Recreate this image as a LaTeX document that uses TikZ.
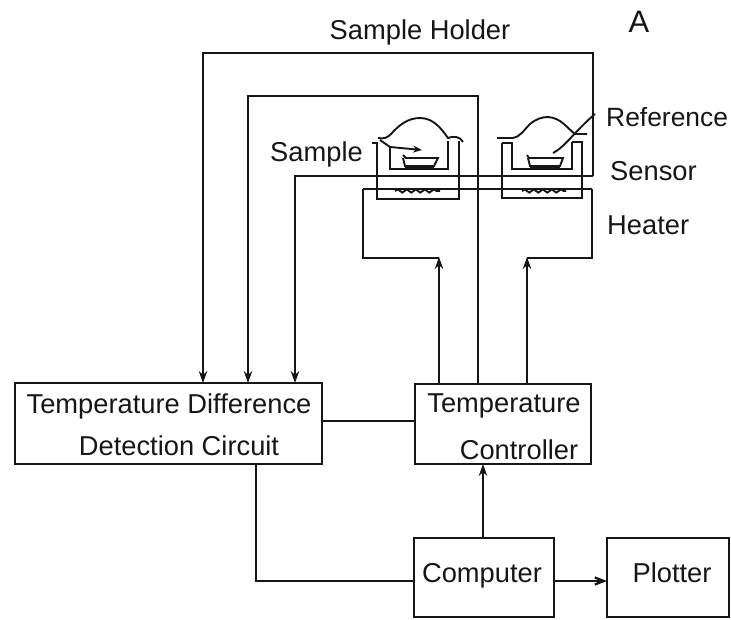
\documentclass[tikz,border=0pt]{standalone}
\usepackage{fontspec}
\setmainfont{Liberation Sans}
\usetikzlibrary{arrows.meta,decorations.pathmorphing}
\definecolor{ink}{HTML}{161616}
\tikzset{
  ln/.style={draw=ink,line width=2.3pt,line join=miter},
  thin ln/.style={draw=ink,line width=1.9pt},
  arr/.style={ln,-{Stealth[length=12pt,width=8.5pt]}},
  boxn/.style={draw=ink,line width=2.6pt,outer sep=0pt,inner sep=0pt,anchor=north west},
  lab/.style={text=ink,inner sep=0pt,font=\fontsize{27.3}{30}\selectfont},
  wavy/.style={thin ln,decorate,decoration={snake,segment length=9pt,amplitude=1.6pt}},
}
\begin{document}
\begin{tikzpicture}[x=1pt,y=-1pt]
\useasboundingbox (0,0) rectangle (731,619);
% blocks
\node[boxn,minimum width=307pt,minimum height=81pt] (tddc) at (15,383) {};
\node[boxn,minimum width=176pt,minimum height=80pt] (ctrl) at (415,384) {};
\node[boxn,minimum width=140pt,minimum height=79pt] (comp) at (414,538) {};
\node[boxn,minimum width=122pt,minimum height=79pt] (plot) at (607,538) {};
% texts
\node[lab] (t1) at (169,406) {Temperature Difference};
\node[lab] (t2) at (179,446) {Detection Circuit};
\node[lab] (t3) at (504,406) {Temperature};
\node[lab] (t4) at (519,450) {Controller};
\node[lab] (t5) at (482,576) {Computer};
\node[lab] (t6) at (672,573) {Plotter};
\node[lab] (t7) at (420,32) {Sample Holder};
\node[text=ink,inner sep=0pt,font=\fontsize{31}{34}\selectfont] (t8) at (639,22) {A};
\node[lab,anchor=west,font=\fontsize{26.4}{30}\selectfont] (t9) at (606,117) {Reference};
\node[lab,anchor=west] (t10) at (270,154) {Sample};
\node[lab,anchor=west] (t11) at (610,171) {Sensor};
\node[lab,anchor=west] (t12) at (607,225) {Heater};
% junction coordinates
\coordinate (holdR) at (593,176);
\coordinate (heatL) at (363,189);
\coordinate (heatR) at (592,189);
% wiring to difference circuit
\draw[arr] (holdR) -- (593,53) -- (203,53) -- (tddc.north -| 203,0);
\draw[arr] (ctrl.north -| 478,0) -- (478,96) -- (248,96) -- (tddc.north -| 248,0);
\draw[arr] (holdR) -- (295,176) -- (tddc.north -| 295,0);
% heater wiring
\draw[ln] (heatL) -- (heatR);
\draw[ln] (heatL) -- (363,258) -- (439,258);
\draw[arr] (ctrl.north -| 439,0) -- (439,257);
\draw[arr] (ctrl.north -| 527,0) -- (527,257);
\draw[ln] (heatR) -- (592,258) -- (527,258);
\draw[ln] (tddc.east |- 0,421) -- (ctrl.west |- 0,421);
\draw[arr] (comp.north -| 483,0) -- (ctrl.south -| 483,0);
\draw[ln] (tddc.south -| 256,0) -- (256,581) -- (comp.west |- 0,581);
\draw[arr,-{Straight Barb[length=9pt,width=7pt]}] (comp.east |- 0,581) -- (plot.west |- 0,581);
% left cell
\draw[thin ln] (372,143) -- (377,143) -- (377,199) -- (459,199) -- (459,141);
\draw[thin ln] (390,147) -- (390,169) -- (448,169) -- (448,141);
\draw[thin ln] (378,138) .. controls (384,139) and (387,138) .. (391,134) .. controls (399,125) and (408,118) .. (420,118) .. controls (433,118) and (441,128) .. (448,138) .. controls (453,136) and (460,136) .. (463,142);
\draw[thin ln] (403,155) -- (406,158) -- (438,158) -- (434,166) -- (405,166) -- (403,158);
\draw[ink,line width=2.6pt] (405,168) -- (434,168);
\draw[thin ln,-{Stealth[length=9pt,width=7pt]}] (380,140) -- (390,147) -- (422,150);
\draw[wavy] (395,191) -- (440,191);
% right cell
\draw[thin ln] (497,138) -- (513,138);
\draw[thin ln] (502,143) -- (502,198) -- (582,198) -- (582,142) -- (572,142);
\draw[thin ln] (502,143) -- (512,143) -- (512,169) -- (572,169) -- (572,142);
\draw[thin ln] (513,138) .. controls (520,137) and (524,130) .. (530,124) .. controls (536,119) and (542,117) .. (548,117) .. controls (561,118) and (566,127) .. (575,134) -- (587,134);
\draw[thin ln] (527,155) -- (529,158) -- (563,158) -- (560,166) -- (530,166) -- (528,158);
\draw[ink,line width=2.6pt] (530,168) -- (560,168);
\draw[thin ln] (553,153) .. controls (565,147) and (575,131) .. (595,114);
\draw[wavy] (522,191) -- (566,191);
\end{tikzpicture}
\end{document}
